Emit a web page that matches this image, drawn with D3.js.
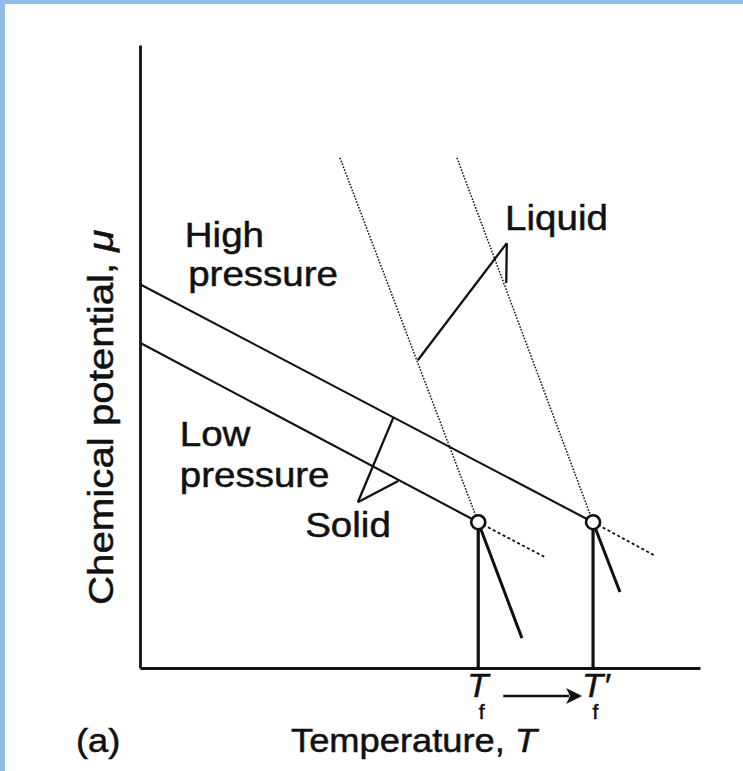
<!DOCTYPE html>
<html>
<head>
<meta charset="utf-8">
<script src="https://cdn.jsdelivr.net/npm/d3@7"></script>
<style>
  body { margin: 0; background: #ffffff; }
  svg text { font-family: "Liberation Sans", Arial, Helvetica, sans-serif; fill: #111; stroke: #111; stroke-width: 0.5; }
</style>
</head>
<body>
<div id="chart"></div>
<script>
var W = 743, H = 771;

// schematic values (T and mu in arbitrary units, 0..100)
var pressures   = ["Low pressure", "High pressure"];
var meltT       = [60.4, 80.9];   // Tf, Tf'
var meltMu      = [23.4, 23.4];
var solidMu0    = [52.2, 61.6];   // solid line where it leaves the mu axis
var solidEndT   = [72.3, 92.0];   // metastable (dotted) end of solid line
var solidEndMu  = [17.8, 18.0];
var liqStartT   = [35.7, 56.6];   // dotted liquid line, top end
var liqStartMu  = [81.9, 81.9];
var liqEndT     = [68.2, 85.7];   // solid liquid line, lower end
var liqEndMu    = [4.8, 12.2];

// pointer lines for the "Liquid" / "Solid" labels: apex, leg to low, leg to high
var liquidPtrT  = [65.5, 49.6, 65.4];
var liquidPtrMu = [68.2, 49.4, 61.8];
var solidPtrT   = [38.9, 46.1, 45.2];
var solidPtrMu  = [26.6, 30.0, 40.1];

// text labels in data units
var labelText = ["High", "pressure", "Low", "pressure", "Solid", "Liquid"];
var labelT    = [8.0, 8.6, 7.1, 7.1, 29.5, 65.2];
var labelMu   = [67.6, 61.3, 35.6, 29.1, 21.0, 70.3];

var tfLabels  = ["T", "T\u2032"];

var svg = d3.select("#chart").append("svg")
    .attr("width", W)
    .attr("height", H);

// blue page frame
svg.append("rect").attr("width", W).attr("height", H).attr("fill", "#92bde8");
svg.append("rect").attr("x", 5).attr("y", 4).attr("width", W - 5).attr("height", H - 4).attr("fill", "#ffffff");

var x = d3.scaleLinear().domain([0, 100]).range([140, 700]);
var y = d3.scaleLinear().domain([0, 100]).range([668, 45]);

// axes (no ticks, just the domain lines)
svg.append("g")
    .attr("transform", "translate(" + x(0) + ",0)")
    .call(d3.axisLeft(y).ticks(0).tickSizeOuter(0));
svg.append("g")
    .attr("transform", "translate(0," + y(0) + ")")
    .call(d3.axisBottom(x).ticks(0).tickSizeOuter(0));
svg.selectAll(".domain").attr("stroke", "#111").attr("stroke-width", 2.8);

var g = svg.append("g").attr("stroke", "#111").attr("fill", "none");

function seg(x1, y1, x2, y2, w, dash) {
  var l = g.append("line")
      .attr("x1", x(x1)).attr("y1", y(y1))
      .attr("x2", x(x2)).attr("y2", y(y2))
      .attr("stroke-width", w);
  if (dash) l.attr("stroke-dasharray", dash);
  return l;
}

pressures.forEach(function(p, i) {
  // solid: stable part
  seg(0, solidMu0[i], meltT[i], meltMu[i], 2.1);
  // solid: metastable continuation
  seg(meltT[i], meltMu[i], solidEndT[i], solidEndMu[i], 1.8, "3,2.5");
  // liquid: metastable part (dotted)
  seg(liqStartT[i], liqStartMu[i], meltT[i], meltMu[i], 1.5, "1.6,1.5");
  // liquid: stable part
  seg(meltT[i], meltMu[i], liqEndT[i], liqEndMu[i], 3);
  // drop line to T axis
  seg(meltT[i], meltMu[i], meltT[i], 0, 3.2);
});

// pointers
[[liquidPtrT, liquidPtrMu], [solidPtrT, solidPtrMu]].forEach(function(ptr) {
  var t = ptr[0], m = ptr[1];
  seg(t[0], m[0], t[1], m[1], 2.3);
  seg(t[0], m[0], t[2], m[2], 2.3);
});

// melting points
g.selectAll("circle")
  .data(meltT)
  .enter()
  .append("circle")
  .attr("cx", function(d) { return x(d); })
  .attr("cy", function(d, i) { return y(meltMu[i]); })
  .attr("r", 7)
  .attr("fill", "#fff")
  .attr("stroke-width", 2.6);

// curve labels
svg.selectAll("text.lab")
  .data(labelText)
  .enter()
  .append("text")
  .attr("class", "lab")
  .attr("font-size", 35)
  .attr("transform", function(d, i) {
    return "translate(" + x(labelT[i]) + "," + y(labelMu[i]) + ") scale(1.1,1)";
  })
  .text(function(d) { return d; });

// y axis title
var yt = svg.append("text")
  .attr("font-size", 35)
  .attr("transform", "translate(113,605) rotate(-90) scale(1.15,1)");
yt.append("tspan").text("Chemical potential, ");
yt.append("tspan").attr("font-style", "italic").text("\u03bc");

// x axis title
var xt = svg.append("text")
  .attr("font-size", 33)
  .attr("transform", "translate(291,752) scale(1.1,1)");
xt.append("tspan").text("Temperature, ");
xt.append("tspan").attr("font-style", "italic").text("T");

svg.append("text")
  .attr("font-size", 33)
  .attr("transform", "translate(76,752) scale(1.1,1)")
  .text("(a)");

// Tf and Tf' labels: one text each, subscript as a lowered tspan
tfLabels.forEach(function(s, i) {
  var t = svg.append("text")
    .attr("font-size", 33)
    .attr("transform", "translate(" + (x(meltT[i]) - 11) + ",697) scale(1.05,1)");
  t.append("tspan").attr("font-style", "italic").text(s);
  t.append("tspan")
    .attr("font-size", 20)
    .attr("x", s.length > 1 ? 10 : 11)
    .attr("dy", 22)
    .text("f");
});

// arrow Tf -> Tf'
var ay = 696;
svg.append("line")
  .attr("x1", x(meltT[0]) + 25).attr("y1", ay)
  .attr("x2", x(meltT[1]) - 24).attr("y2", ay)
  .attr("stroke", "#111").attr("stroke-width", 2.4);
svg.append("path")
  .attr("d", "M" + (x(meltT[1]) - 11) + "," + ay + " l-16,-8 l4,8 l-4,8 z")
  .attr("fill", "#111");
</script>
</body>
</html>
